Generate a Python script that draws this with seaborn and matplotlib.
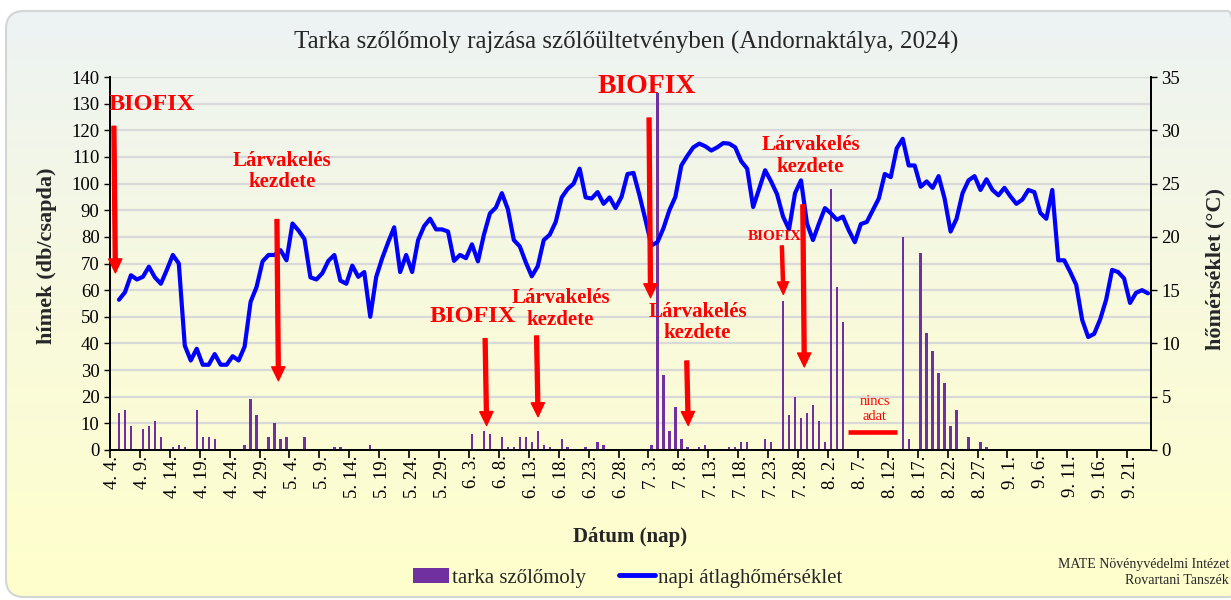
import numpy as np
import pandas as pd
import matplotlib
matplotlib.use("Agg")
import matplotlib.pyplot as plt
import seaborn as sns
from matplotlib.colors import LinearSegmentedColormap
from matplotlib.lines import Line2D
from matplotlib.patches import FancyBboxPatch, Patch

# ---- data -------------------------------------------------------------
season_start = "2024.4.4"
season_days = 174

# napi átlaghőmérséklet (°C), 4.5.-től naponta
temp_start = "2024.4.5"
temp_c = [
    14.1, 14.8, 16.4, 16.0, 16.25, 17.2, 16.2, 15.6, 16.9, 18.3,
    17.5, 9.8, 8.4, 9.5, 8.0, 8.0, 9.0, 8.0, 8.0, 8.8,
    8.4, 9.7, 13.9, 15.3, 17.7, 18.3, 18.3, 18.75, 17.8, 21.25,
    20.6, 19.8, 16.2, 16.0, 16.6, 17.75, 18.3, 15.9, 15.6, 17.3,
    16.25, 16.7, 12.5, 16.25, 18.0, 19.5, 20.9, 16.7, 18.3, 16.7,
    19.7, 21.0, 21.7, 20.7, 20.7, 20.5, 17.75, 18.3, 18.0, 19.3,
    17.7, 20.2, 22.2, 22.75, 24.1, 22.6, 19.7, 19.1, 17.6, 16.3,
    17.25, 19.7, 20.2, 21.4, 23.7, 24.5, 25.0, 26.4, 23.7, 23.6,
    24.2, 23.1, 23.7, 22.7, 23.75, 25.9, 26.0, 23.9, 21.6, 19.2,
    19.5, 20.8, 22.5, 23.75, 26.7, 27.6, 28.4, 28.75, 28.5, 28.1,
    28.4, 28.8, 28.75, 28.4, 27.1, 26.4, 22.8, 24.5, 26.25, 25.2,
    24.0, 21.9, 20.7, 24.1, 25.3, 21.25, 19.7, 21.25, 22.7, 22.2,
    21.6, 21.9, 20.6, 19.5, 21.2, 21.4, 22.5, 23.6, 25.9, 25.6,
    28.3, 29.2, 26.7, 26.7, 24.7, 25.2, 24.6, 25.7, 23.6, 20.5,
    21.7, 24.1, 25.3, 25.7, 24.4, 25.4, 24.4, 23.9, 24.6, 23.8,
    23.1, 23.5, 24.4, 24.2, 22.25, 21.7, 24.4, 17.8, 17.8, 16.7,
    15.5, 12.2, 10.6, 10.9, 12.25, 14.1, 16.9, 16.7, 16.1, 13.8,
    14.75, 15.0, 14.7,
]

# tarka szőlőmoly fogások (db/csapda)
catch_dates = [
    "4.5", "4.6", "4.7", "4.9", "4.10", "4.11", "4.12", "4.14", "4.15", "4.16",
    "4.18", "4.19", "4.20", "4.21", "4.26", "4.27", "4.28", "4.30", "5.1", "5.2",
    "5.3", "5.6", "5.11", "5.12", "5.17",
    "6.3", "6.5", "6.6", "6.8", "6.9", "6.10", "6.11", "6.12", "6.13", "6.14",
    "6.15", "6.16", "6.18", "6.19", "6.22", "6.24", "6.25",
    "7.3", "7.4", "7.5", "7.6", "7.7", "7.8", "7.9", "7.11", "7.12", "7.16",
    "7.17", "7.18", "7.19", "7.22", "7.23", "7.25", "7.26", "7.27", "7.28", "7.29",
    "7.30", "7.31", "8.1", "8.2", "8.3", "8.4",
    "8.14", "8.15", "8.17", "8.18", "8.19", "8.20", "8.21", "8.22", "8.23", "8.25",
    "8.27", "8.28",
]
catch_counts = [
    14, 15, 9, 8, 9, 11, 5, 1, 2, 1,
    15, 5, 5, 4, 2, 19, 13, 5, 10, 4,
    5, 5, 1, 1, 2,
    6, 7, 6, 5, 1, 1, 5, 5, 3, 7,
    2, 1, 4, 1, 1, 3, 2,
    2, 134, 28, 7, 16, 4, 1, 1, 2, 1,
    1, 3, 3, 4, 3, 56, 13, 20, 12, 14,
    17, 11, 3, 98, 61, 48,
    80, 4, 74, 44, 37, 29, 25, 9, 15, 5,
    3, 1,
]

tick_labels = [
    "4. 4.", "4. 9.", "4. 14.", "4. 19.", "4. 24.", "4. 29.", "5. 4.", "5. 9.",
    "5. 14.", "5. 19.", "5. 24.", "5. 29.", "6. 3.", "6. 8.", "6. 13.", "6. 18.",
    "6. 23.", "6. 28.", "7. 3.", "7. 8.", "7. 13.", "7. 18.", "7. 23.", "7. 28.",
    "8. 2.", "8. 7.", "8. 12.", "8. 17.", "8. 22.", "8. 27.", "9. 1.", "9. 6.",
    "9. 11.", "9. 16.", "9. 21.",
]

# (szöveg, szöveg x, szöveg y, nyíl x, nyíl tető, nyíl hegy, betűméret)
notes = [
    ("BIOFIX", 6.5, 129.5, 0.15, 121.5, 66.5, 17.5),
    ("Lárvakelés\nkezdete", 28.3, 104.5, 27.4, 86.5, 26.0, 15),
    ("BIOFIX", 60.1, 50.0, 62.2, 41.8, 9.2, 17.5),
    ("Lárvakelés\nkezdete", 74.8, 53.0, 70.8, 42.8, 12.5, 15),
    ("BIOFIX", 89.3, 136.5, 89.6, 124.6, 57.2, 20),
    ("Lárvakelés\nkezdete", 97.7, 47.8, 95.9, 33.4, 9.2, 15),
    ("BIOFIX", 110.6, 80.3, 111.8, 76.6, 58.4, 11),
    ("Lárvakelés\nkezdete", 116.6, 110.4, 115.3, 92.0, 31.2, 15),
]


def to_day(md):
    d = pd.to_datetime("2024." + md.replace(" ", "").strip("."), format="%Y.%m.%d")
    return (d - pd.to_datetime(season_start, format="%Y.%m.%d")).days


catch_day = [to_day(d) for d in catch_dates]
t0 = (pd.to_datetime(temp_start, format="%Y.%m.%d")
      - pd.to_datetime(season_start, format="%Y.%m.%d")).days
temp_day = np.arange(len(temp_c)) + t0
label_day = [to_day(t) for t in tick_labels]

# ---- style ------------------------------------------------------------
sns.set_theme(style="ticks")
plt.rcParams["font.family"] = ["Liberation Serif", "DejaVu Serif"]
plt.rcParams["axes.unicode_minus"] = False

W, H = 1231, 600
fig = plt.figure(figsize=(W / 100, H / 100), dpi=100, facecolor="white")

# rounded gradient background
bg = fig.add_axes([0, 0, 1, 1], zorder=-10)
bg.set_xlim(0, W)
bg.set_ylim(0, H)
bg.set_axis_off()
cmap = LinearSegmentedColormap.from_list(
    "bg", [(0, "#FFFFCC"), (0.45, "#F9FADB"), (1, "#EDF3F4")])
grad = np.linspace(0, 1, 256)[:, None]
box = FancyBboxPatch((6, 3), 1240, 586, boxstyle="round,pad=0,rounding_size=18",
                     facecolor="none", edgecolor="#D4D6D6", lw=1.5)
bg.add_patch(box)
im = bg.imshow(grad, aspect="auto", cmap=cmap, extent=[6, 1246, 3, 589],
               origin="lower", zorder=0)
im.set_clip_path(box)

ax = fig.add_axes([110 / W, 1 - 450 / H, 1041 / W, 373 / H])
ax.set_facecolor("none")
ax2 = ax.twinx()

sns.barplot(x=catch_day, y=catch_counts, native_scale=True, width=0.4,
            color="#7030A0", saturation=1, linewidth=0, ax=ax, zorder=3)
sns.lineplot(x=temp_day, y=temp_c, ax=ax2, color="#0000FF", lw=3.0, zorder=4)

ax.set_xlim(-0.5, season_days - 0.5)
ax.set_ylim(0, 140)
ax2.set_ylim(0, 35)
ax.set_yticks(np.arange(0, 141, 10))
ax2.set_yticks(np.arange(0, 36, 5))
ax.yaxis.grid(True, color="#D9D9D9", lw=1.6, zorder=0)
ax.set_axisbelow(True)

ax.set_xticks(label_day)
ax.set_xticklabels(tick_labels, rotation=90, fontsize=13.5)
ax.set_xticks(np.array(label_day) - 0.5, minor=True)
ax.tick_params(axis="x", which="major", length=0, pad=4, colors="black")
ax.tick_params(axis="x", which="minor", length=6, width=1.2, direction="out",
               color="black")
ax.tick_params(axis="y", labelsize=13.5, length=4, width=1, colors="black")
ax2.tick_params(axis="y", labelsize=13.5, length=4, width=1, colors="black")

for a in (ax, ax2):
    a.spines["top"].set_visible(False)
    for s in ("left", "right", "bottom"):
        a.spines[s].set_color("black")
        a.spines[s].set_linewidth(1.3)

ax.set_xlabel("Dátum (nap)", fontsize=15, fontweight="bold")
ax.xaxis.set_label_coords(0.4995, -0.206)
ax.set_ylabel("hímek (db/csapda)", fontsize=16, fontweight="bold")
ax.yaxis.set_label_coords(-0.051, 0.52)
ax2.set_ylabel("hőmérséklet (°C)", fontsize=16, fontweight="bold")
ax2.yaxis.set_label_coords(1.052, 0.485)

# annotations
for text, tx, ty, axx, y0, y1, fs in notes:
    ax2.text(tx, ty / 4, text, color="red", fontsize=fs, fontweight="bold",
             ha="center", va="center", linespacing=1.1, zorder=6)
    small = fs < 12
    ax2.annotate("", xy=(axx + 0.25, y1 / 4), xytext=(axx, y0 / 4),
                 arrowprops=dict(facecolor="red", edgecolor="red",
                                 width=2.2 if small else 2.8,
                                 headwidth=8 if small else 9.5,
                                 headlength=9 if small else 10, shrink=0),
                 zorder=6)

ax2.text(127.3, 15.4 / 4, "nincs\nadat", color="red", fontsize=10.5,
         ha="center", va="center", linespacing=1.15, zorder=6)
ax2.plot([122.8, 131.0], [6.8 / 4, 6.8 / 4], color="red", lw=3.3,
         solid_capstyle="butt", zorder=6)

fig.text(0.5085, 0.93, "Tarka szőlőmoly rajzása szőlőültetvényben (Andornaktálya, 2024)",
         ha="center", va="center", fontsize=18)

handles = [Patch(facecolor="#7030A0", edgecolor="none"),
           Line2D([], [], color="#0000FF", lw=3.5)]
fig.legend(handles, ["tarka szőlőmoly", "napi átlaghőmérséklet"],
           loc="center", bbox_to_anchor=(0.51, 0.037), ncol=2, frameon=False,
           fontsize=15, handlelength=1.7, handletextpad=0.15, columnspacing=1.6)

fig.text(0.9985, 0.046, "MATE Növényvédelmi Intézet\nRovartani Tanszék",
         ha="right", va="center", multialignment="right", fontsize=10,
         linespacing=1.25)

fig.savefig("out.png", dpi=100, facecolor="white")
